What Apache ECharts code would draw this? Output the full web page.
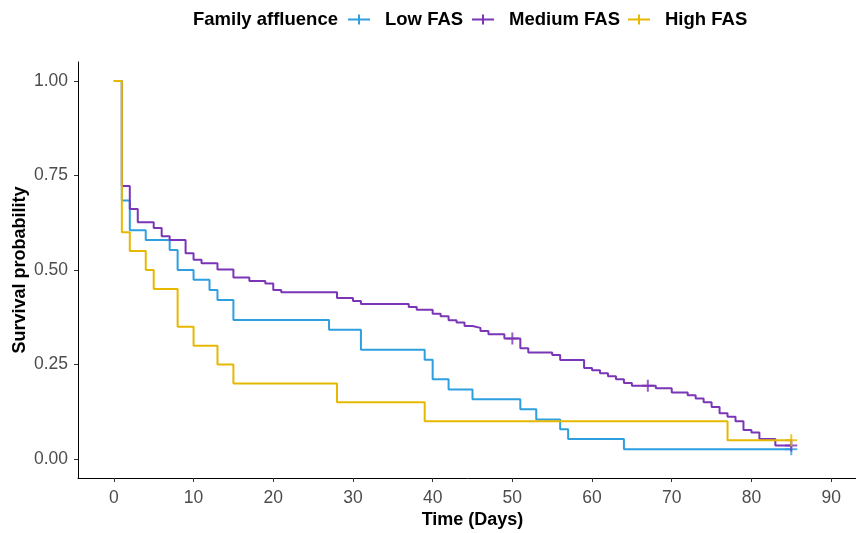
<!DOCTYPE html>
<html>
<head>
<meta charset="utf-8">
<script src="https://cdn.jsdelivr.net/npm/echarts@6/dist/echarts.min.js"></script>
<style>html,body{margin:0;padding:0;background:#fff}#c{width:856px;height:533px}</style>
</head>
<body>
<div id="c"></div>
<script>
var xTicks = [0, 10, 20, 30, 40, 50, 60, 70, 80, 90];
var yTicks = [0, 0.25, 0.5, 0.75, 1];
var groupNames = ['Low FAS', 'Medium FAS', 'High FAS'];

var lowDays = [0, 1, 2, 4, 7, 8, 10, 12, 13, 15, 27, 31, 39, 40, 42, 45, 51, 53, 56, 57, 64, 85];
var lowSurv = [1, 0.684, 0.605, 0.579, 0.553, 0.500, 0.474, 0.447, 0.421, 0.368, 0.342, 0.289, 0.263, 0.211, 0.184, 0.158, 0.132, 0.105, 0.079, 0.053, 0.026, 0.026];

var medDays = [0, 1, 2, 3, 5, 6, 7, 9, 10, 11, 13, 15, 17, 19, 20, 21, 28, 30, 31, 37, 38, 40, 41, 42, 43, 44, 45, 46, 47, 49, 51, 52, 55, 56, 59, 60, 61, 62, 63, 64, 65, 68, 70, 72, 73, 74, 75, 76, 77, 78, 79, 80, 81, 83, 85];
var medSurv = [1, 0.722, 0.661, 0.626, 0.611, 0.589, 0.579, 0.544, 0.527, 0.518, 0.501, 0.480, 0.471, 0.464, 0.447, 0.441, 0.426, 0.418, 0.410, 0.402, 0.395, 0.384, 0.378, 0.367, 0.361, 0.352, 0.347, 0.339, 0.330, 0.319, 0.293, 0.282, 0.275, 0.262, 0.241, 0.235, 0.227, 0.219, 0.211, 0.201, 0.194, 0.187, 0.176, 0.169, 0.160, 0.150, 0.138, 0.121, 0.112, 0.100, 0.077, 0.070, 0.053, 0.036, 0.036];

var highDays = [0, 1, 2, 4, 5, 8, 10, 13, 15, 28, 39, 77, 85];
var highSurv = [1, 0.60, 0.55, 0.50, 0.45, 0.35, 0.30, 0.25, 0.20, 0.15, 0.10, 0.05, 0.05];

var lowCensorDays = [85];
var lowCensorSurv = [0.026];
var medCensorDays = [50, 67, 85];
var medCensorSurv = [0.319, 0.194, 0.036];
var highCensorDays = [85];
var highCensorSurv = [0.05];

var colors = ['#2E9FDF', '#7B35B7', '#E7B800'];
var FONT = '"Liberation Sans", Arial, sans-serif';
var plusPath = 'path://M0,5h12v2h-12z M5,0h2v12h-2z';
var legendIcon = 'path://M0,4h22v2h-22z M10,0h2v10h-2z';

function pairs(xs, ys) { return xs.map(function (x, i) { return [x, ys[i]]; }); }

var stepData = [pairs(lowDays, lowSurv), pairs(medDays, medSurv), pairs(highDays, highSurv)];
var censorData = [pairs(lowCensorDays, lowCensorSurv), pairs(medCensorDays, medCensorSurv), pairs(highCensorDays, highCensorSurv)];

var series = [];
groupNames.forEach(function (n, i) {
  series.push({
    name: n, type: 'line', step: 'end', showSymbol: false, symbol: 'none',
    data: stepData[i], color: colors[i],
    lineStyle: { color: colors[i], width: 2 }, itemStyle: { color: colors[i] },
    z: 2 + i, animation: false
  });
});
groupNames.forEach(function (n, i) {
  series.push({
    name: n + ' censor', type: 'scatter', symbol: plusPath, symbolSize: 12,
    data: censorData[i], itemStyle: { color: colors[i] }, z: 5 + i, animation: false
  });
});

var legendLefts = [343, 467, 623];
var legends = groupNames.map(function (n, i) {
  return {
    left: legendLefts[i], top: 5, data: [n], icon: legendIcon,
    itemWidth: 22, itemHeight: 10, selectedMode: false,
    textStyle: { fontFamily: FONT, fontWeight: 'bold', fontSize: 18.5, color: '#000', padding: [0, 0, 0, 10] }
  };
});

var chart = echarts.init(document.getElementById('c'), null, { renderer: 'canvas' });
chart.setOption({
  animation: false,
  backgroundColor: '#fff',
  title: { text: 'Family affluence', left: 188, top: 5, textStyle: { fontFamily: FONT, fontWeight: 'bold', fontSize: 18.5, color: '#000' } },
  legend: legends,
  grid: { left: 78, top: 62, right: -11, bottom: 55, outerBoundsMode: 'none', containLabel: false },
  xAxis: {
    type: 'value', min: -4.5, max: 94.5,
    name: 'Time (Days)', nameLocation: 'middle', nameGap: 33, nameMoveOverlap: false,
    nameTextStyle: { fontFamily: FONT, fontWeight: 'bold', fontSize: 18, color: '#000' },
    axisLine: { show: true, onZero: false, lineStyle: { color: '#000', width: 1 } },
    axisTick: { show: true, length: 4, customValues: xTicks, lineStyle: { color: '#333' } },
    axisLabel: { customValues: xTicks, margin: 11, fontFamily: FONT, fontSize: 17.5, color: '#4D4D4D' },
    splitLine: { show: false }
  },
  yAxis: {
    type: 'value', min: -0.05, max: 1.05,
    name: 'Survival probability', nameLocation: 'middle', nameGap: 49, nameRotate: 90, nameMoveOverlap: false,
    nameTextStyle: { fontFamily: FONT, fontWeight: 'bold', fontSize: 18, color: '#000' },
    axisLine: { show: true, onZero: false, lineStyle: { color: '#000', width: 1 } },
    axisTick: { show: true, length: 4, customValues: yTicks, lineStyle: { color: '#333' } },
    axisLabel: { customValues: yTicks, margin: 10, fontFamily: FONT, fontSize: 17.5, color: '#4D4D4D',
      formatter: function (v) { return v.toFixed(2); } },
    splitLine: { show: false }
  },
  series: series
});
</script>
</body>
</html>
